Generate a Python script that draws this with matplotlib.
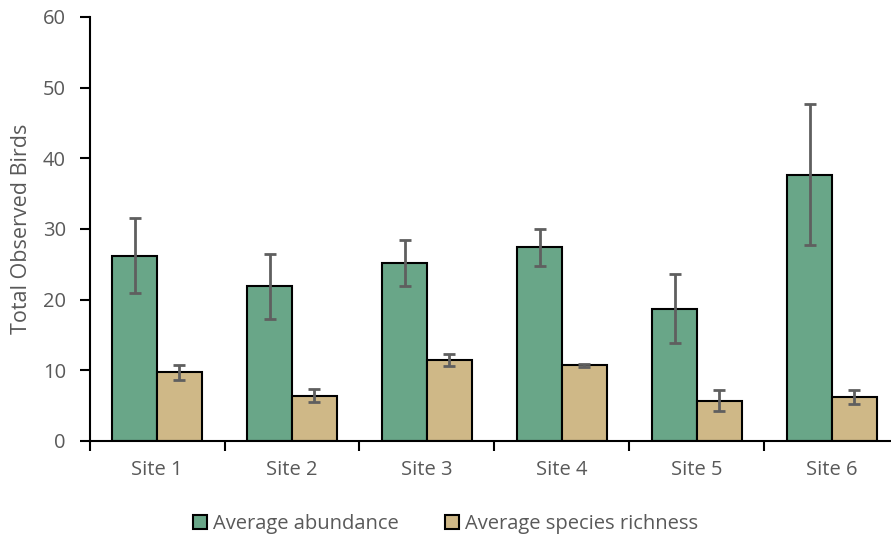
import numpy as np
import matplotlib.pyplot as plt
from matplotlib.patches import Patch

sites = ["Site 1", "Site 2", "Site 3", "Site 4", "Site 5", "Site 6"]
abundance = [26.2, 21.9, 25.2, 27.4, 18.7, 37.7]
abundance_err = [5.3, 4.6, 3.2, 2.6, 4.9, 10.0]
richness = [9.7, 6.4, 11.4, 10.7, 5.7, 6.2]
richness_err = [1.05, 0.95, 0.85, 0.2, 1.5, 1.0]

green = "#69A688"
tan = "#CFB887"
grey = "#595959"

plt.rcParams["font.family"] = ["Open Sans", "DejaVu Sans"]

fig = plt.figure(figsize=(8.91, 5.43), dpi=100)
ax = fig.add_axes([89.5 / 891, 1 - 441 / 543, 810 / 891, 424 / 543])

x = np.arange(len(sites))
w = 0.333
err_kw = dict(ecolor="#5f5f5f", elinewidth=2, capsize=4, capthick=2)
ax.bar(x - w / 2, abundance, w, yerr=abundance_err, color=green,
       edgecolor="black", linewidth=1.5, error_kw=err_kw, zorder=2)
ax.bar(x + w / 2, richness, w, yerr=richness_err, color=tan,
       edgecolor="black", linewidth=1.5, error_kw=err_kw, zorder=2)

ax.set_xlim(-0.5, len(sites) - 0.5)
ax.set_ylim(0, 60)
ax.set_yticks(range(0, 61, 10))
ax.set_xticks(x)
ax.set_xticklabels(sites)
ax.set_xticks(np.arange(-0.5, len(sites)), minor=True)
ax.tick_params(axis="x", which="major", length=0, pad=14, labelsize=14.5, labelcolor=grey)
ax.tick_params(axis="x", which="minor", length=7, width=1.5, direction="out")
ax.tick_params(axis="y", length=7, width=1.5, labelsize=14.5, labelcolor=grey, pad=10)

for s in ["top", "right"]:
    ax.spines[s].set_visible(False)
for s in ["left", "bottom"]:
    ax.spines[s].set_linewidth(1.5)

ax.set_ylabel("Total Observed Birds", fontsize=15.5, color=grey, labelpad=8)

handles = [Patch(facecolor=green, edgecolor="black", linewidth=1.5, label="Average abundance"),
           Patch(facecolor=tan, edgecolor="black", linewidth=1.5, label="Average species richness")]
fig.legend(handles=handles, loc="center", bbox_to_anchor=(0.5, 1 - 524 / 543), ncol=2,
           frameon=False, fontsize=14.5, labelcolor=grey, handlelength=0.7, handleheight=0.7,
           handletextpad=0.3, columnspacing=2.3)

fig.savefig("out.png", dpi=100)
